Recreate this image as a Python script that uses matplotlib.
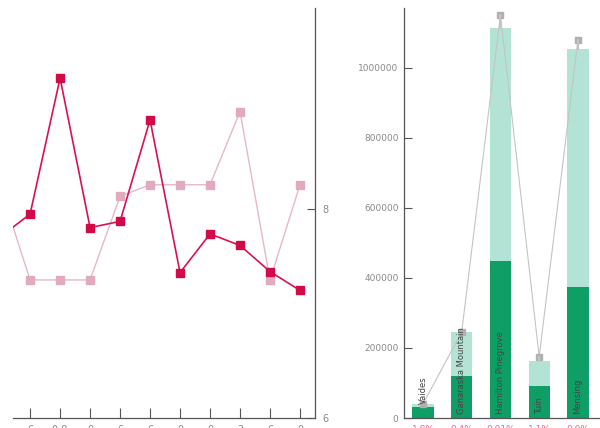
import matplotlib
matplotlib.use("Agg")
import matplotlib.pyplot as plt
import numpy as np

# ---- left panel data (line chart) ----
line_x = [-1, 0, 1, 2, 3, 4, 5, 6, 7, 8, 9]
line_labels = ["6", "0 8", "0", "6", "6", "0", "0", "3", "6", "0"]
series_a = [7.73, 7.95, 9.25, 7.82, 7.88, 8.85, 7.39, 7.76, 7.65, 7.40, 7.22]
series_b = [8.21, 7.32, 7.32, 7.32, 8.12, 8.23, 8.23, 8.23, 8.93, 7.32, 8.23]

# ---- right panel data (stacked bars) ----
bar_cats = ["Vaides", "Ganaraska Mountain", "Hamilton Pinegrove", "Tuin", "Mensing"]
bar_dark = [31000, 120000, 448000, 91000, 374000]
bar_light = [9000, 126000, 666000, 72000, 680000]
bar_marker = [40000, 246000, 1151000, 175000, 1080000]
bar_pct = ["1.8%", "0.4%", "0.01%", "1.1%", "0.0%"]

fig = plt.figure(figsize=(6.0, 4.28), dpi=100)

gray = "#8a8a8a"
spine_c = "#555555"

# Left axes
ax1 = fig.add_axes([13/600, 10/428, (315-13)/600, 410/428])
ax1.plot(line_x, series_b, color="#e8b7c6", lw=1.0, marker="s", ms=5.5,
         mfc="#e2aabd", mec="#e2aabd", zorder=2)
ax1.plot(line_x, series_a, color="#d9124f", lw=1.2, marker="s", ms=5.5,
         mfc="#d10a48", mec="#d10a48", zorder=3)
ax1.set_xlim(-0.57, 9.5)
ax1.set_ylim(6, 9.92)
ax1.set_xticks(range(10))
ax1.set_xticklabels(line_labels, fontsize=7, color=gray)
ax1.set_yticks([6, 8])
ax1.set_yticklabels(["6", "8"], fontsize=7, color=gray)
ax1.yaxis.tick_right()
ax1.tick_params(axis="x", direction="in", length=7, width=0.8, color=spine_c, pad=5)
ax1.tick_params(axis="y", direction="in", length=6, width=0.8, color=spine_c, pad=5)
for s in ["left", "top"]:
    ax1.spines[s].set_visible(False)
for s in ["right", "bottom"]:
    ax1.spines[s].set_color(spine_c)
    ax1.spines[s].set_linewidth(0.9)

# Right axes
ax2 = fig.add_axes([404/600, 10/428, (600-404)/600, 410/428])
xb = np.arange(len(bar_cats))
ax2.bar(xb, bar_dark, width=0.55, color="#0f9e66", zorder=2)
ax2.bar(xb, bar_light, width=0.55, bottom=bar_dark, color="#b3e3d4", zorder=2)
ax2.plot(xb, bar_marker, color="#c4c4c4", lw=0.8, marker="s", ms=4,
         mfc="#b0b0b0", mec="#b0b0b0", zorder=3)
for i in range(len(xb)):
    ax2.plot([xb[i], xb[i]], [bar_marker[i], bar_dark[i] + bar_light[i]],
             color="#c4c4c4", lw=1.5, zorder=3)
for i, name in enumerate(bar_cats):
    if i == 0:
        ax2.text(xb[i], bar_dark[i] + bar_light[i], name, rotation=90,
                 ha="center", va="bottom", fontsize=6, color="#444444", zorder=4)
    else:
        ax2.text(xb[i], 12000, name, rotation=90, ha="center", va="bottom",
                 fontsize=6, color="#444444", zorder=4)
ax2.set_xlim(-0.49, 4.57)
ax2.set_ylim(0, 1171000)
ax2.set_yticks([0, 200000, 400000, 600000, 800000, 1000000])
ax2.set_yticklabels(["0", "200000", "400000", "600000", "800000", "1000000"],
                    fontsize=6.5, color=gray)
ax2.set_xticks(xb)
ax2.set_xticklabels(bar_pct, fontsize=6.5, color="#e0708c")
ax2.tick_params(axis="y", direction="in", length=6, width=0.8, color=spine_c, pad=4)
ax2.tick_params(axis="x", length=0, pad=5)
for s in ["right", "top"]:
    ax2.spines[s].set_visible(False)
for s in ["left", "bottom"]:
    ax2.spines[s].set_color(spine_c)
    ax2.spines[s].set_linewidth(0.9)

fig.savefig("out.png", dpi=100)
